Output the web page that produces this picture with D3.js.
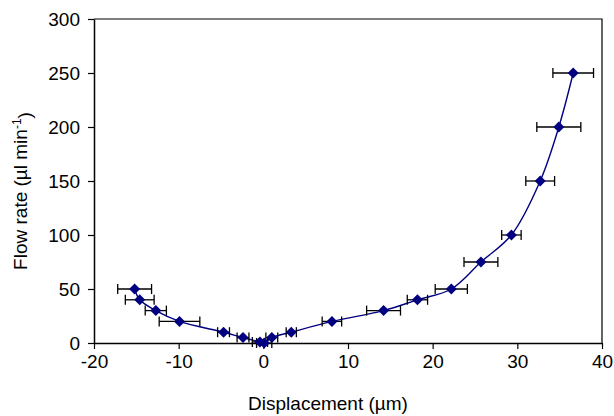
<!DOCTYPE html>
<html>
<head>
<meta charset="utf-8">
<script src="https://cdn.jsdelivr.net/npm/d3@7"></script>
<style>
  body { margin: 0; background: #fff; }
  text { font-family: "Liberation Sans", Arial, sans-serif; fill: #000; }
</style>
</head>
<body>
<div id="chart"></div>
<script>
// data
const displacement = [-15.2, -14.6, -12.7, -9.9, -4.7, -2.4, -0.4, 0.1, 1.0, 3.3, 8.1, 14.2, 18.2, 22.2, 25.7, 29.3, 32.7, 34.9, 36.6];
const flowRate = [50, 40, 30, 20, 10, 5, 1, 0, 5, 10, 20, 30, 40, 50, 75, 100, 150, 200, 250];
const errorX = [2.0, 1.7, 1.25, 2.4, 0.7, 0.7, 0.9, 0.9, 0.7, 0.6, 1.15, 2.0, 1.2, 1.9, 2.0, 1.15, 1.7, 2.6, 2.4];
const xTicks = [-20, -10, 0, 10, 20, 30, 40];
const yTicks = [0, 50, 100, 150, 200, 250, 300];

const width = 614, height = 416,
    margin = { top: 19, right: 12, bottom: 73, left: 94 },
    fontSize = 19;

const data = displacement.map((d, i) => ({ x: d, y: flowRate[i], e: errorX[i] }));

const xScale = d3.scaleLinear().domain([-20, 40]).range([margin.left, width - margin.right]);
const yScale = d3.scaleLinear().domain([0, 300]).range([height - margin.bottom, margin.top]);

const svg = d3.select("#chart").append("svg")
    .attr("width", width)
    .attr("height", height);

// frame (top + right)
svg.append("path")
    .attr("d", `M${xScale(-20)},${yScale(300)}H${xScale(40)}V${yScale(0)}`)
    .attr("fill", "none")
    .attr("stroke", "#000")
    .attr("stroke-width", 1.2);

// axes, plain hyphen for negatives like the original
const xAxis = d3.axisBottom(xScale).tickValues(xTicks).tickFormat(d => String(d))
    .tickSize(6).tickSizeOuter(0).tickPadding(6);
const yAxis = d3.axisLeft(yScale).tickValues(yTicks).tickFormat(d => String(d))
    .tickSize(6).tickSizeOuter(0).tickPadding(8);

const gx = svg.append("g")
    .attr("transform", `translate(0,${yScale(0)})`)
    .call(xAxis);
const gy = svg.append("g")
    .attr("transform", `translate(${xScale(-20)},0)`)
    .call(yAxis);

[gx, gy].forEach(g => {
    g.select(".domain").attr("stroke", "#000").attr("stroke-width", 1.5);
    g.selectAll(".tick line").attr("stroke", "#000").attr("stroke-width", 1.2);
    g.selectAll(".tick text")
        .style("font-family", '"Liberation Sans", Arial, sans-serif')
        .style("font-size", fontSize + "px")
        .attr("fill", "#000");
});
gy.selectAll(".tick text").attr("dy", "0.36em");

// line through the points
const line = d3.line()
    .x(d => xScale(d.x))
    .y(d => yScale(d.y))
    .curve(d3.curveCatmullRom.alpha(0.5));

svg.append("path")
    .datum(data)
    .attr("d", line)
    .attr("fill", "none")
    .attr("stroke", "#000080")
    .attr("stroke-width", 1.4);

// horizontal error bars
const bars = svg.append("g")
    .selectAll("g")
    .data(data)
    .join("g")
    .attr("stroke", "#000")
    .attr("stroke-width", 1.3);

bars.append("line")
    .attr("x1", d => xScale(d.x - d.e))
    .attr("x2", d => xScale(d.x + d.e))
    .attr("y1", d => yScale(d.y))
    .attr("y2", d => yScale(d.y));
bars.append("line")
    .attr("x1", d => xScale(d.x - d.e))
    .attr("x2", d => xScale(d.x - d.e))
    .attr("y1", d => yScale(d.y) - 5)
    .attr("y2", d => yScale(d.y) + 5);
bars.append("line")
    .attr("x1", d => xScale(d.x + d.e))
    .attr("x2", d => xScale(d.x + d.e))
    .attr("y1", d => yScale(d.y) - 5)
    .attr("y2", d => yScale(d.y) + 5);

// diamond markers
svg.append("g")
    .selectAll("path")
    .data(data)
    .join("path")
    .attr("d", "M0,-5.5L5.5,0L0,5.5L-5.5,0Z")
    .attr("transform", d => `translate(${xScale(d.x)},${yScale(d.y)})`)
    .attr("fill", "#000080");

// axis titles
svg.append("text")
    .attr("x", 328)
    .attr("y", 410)
    .attr("text-anchor", "middle")
    .style("font-size", fontSize + "px")
    .text("Displacement (µm)");

const yt = svg.append("text")
    .attr("transform", "translate(27,191) rotate(-90)")
    .attr("text-anchor", "middle")
    .style("font-size", fontSize + "px");
yt.append("tspan").text("Flow rate (µl min");
yt.append("tspan").attr("dy", "-0.5em").style("font-size", "12px").text("-1");
yt.append("tspan").attr("dy", "0.5em").text(")");
</script>
</body>
</html>
